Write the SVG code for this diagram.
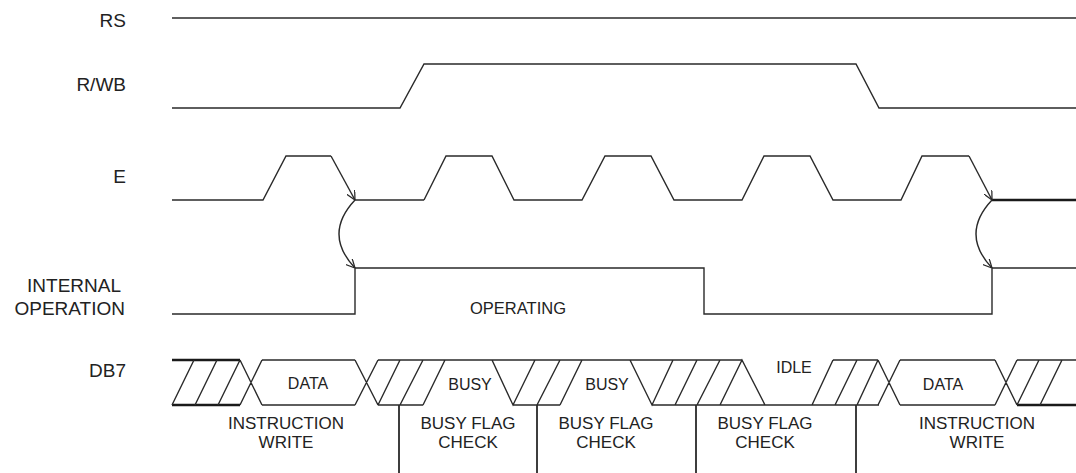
<svg xmlns="http://www.w3.org/2000/svg" width="1076" height="473" viewBox="0 0 1076 473">
<style>
.w{fill:none;stroke:#2a2a2a;stroke-width:1.4;stroke-linejoin:miter}
.t{fill:none;stroke:#1a1a1a;stroke-width:2.4}
.lbl{font-family:"Liberation Sans",Arial,sans-serif;font-size:19px;fill:#222;text-anchor:end}
.in{font-family:"Liberation Sans",Arial,sans-serif;font-size:16px;fill:#222;text-anchor:middle}
.bl{font-family:"Liberation Sans",Arial,sans-serif;font-size:17px;fill:#222;text-anchor:middle}
</style>
<defs>
<marker id="ah" viewBox="0 0 10 10" refX="10" refY="5" markerWidth="9" markerHeight="9" markerUnits="userSpaceOnUse" orient="auto">
<path d="M0,0 L10,5 L0,10" fill="none" stroke="#2a2a2a" stroke-width="1.4"/>
</marker>
</defs>
<rect width="1076" height="473" fill="#fff"/>

<g id="labels">
<text class="lbl" x="126" y="27">RS</text>
<text class="lbl" x="126" y="91">R/WB</text>
<text class="lbl" x="126" y="183">E</text>
<text class="lbl" x="121" y="292">INTERNAL</text>
<text class="lbl" x="125" y="315">OPERATION</text>
<text class="lbl" x="126" y="377">DB7</text>
</g>

<g id="rs">
<line class="w" x1="172" y1="18" x2="1076" y2="18"/>
</g>

<g id="rwb">
<polyline class="w" points="172,108 400,108 424,64 856,64 879,108 1076,108"/>
</g>

<g id="e">
<polyline class="w" points="172,200 263,200 286,156 331,156"/>
<polyline class="w" points="424,200 446,156 492,156 514,200 582,200 605,156 651,156 674,200 742,200 764,156 810,156 833,200 901,200 922,156 969,156"/>
<line class="w" x1="355" y1="200" x2="424" y2="200"/>
<line class="t" x1="992" y1="200" x2="1076" y2="200"/>
</g>

<g id="internal-operation">
<polyline class="w" points="172,314 355,314 355,268 704,268 704,314 992,314 992,268 1076,268"/>
<text class="in" x="518" y="314" style="font-size:16.5px">OPERATING</text>
</g>

<g id="connectors">
<line class="w" x1="331" y1="156" x2="355" y2="200" marker-end="url(#ah)"/>
<line class="w" x1="969" y1="156" x2="992" y2="200" marker-end="url(#ah)"/>
<path class="w" d="M355,200 Q323,234 355,268" marker-end="url(#ah)"/>
<path class="w" d="M992,200 Q960,234 992,268" marker-end="url(#ah)"/>
</g>

<g id="db7">
<line class="t" x1="172" y1="360" x2="240" y2="360"/>
<line class="t" x1="172" y1="405" x2="240" y2="405"/>
<line class="t" x1="1017" y1="405" x2="1076" y2="405"/>
<path class="w" d="M172,405 L194,360 M195,405 L217,360 M218,405 L240,360
M240,360 L262,405 M240,405 L262,360
M262,360 L355,360 M262,405 L355,405
M355,360 L378,405 M355,405 L378,360
M378,360 L742,360
M378,405 L423,405
M378,405 L400,360 M400,405 L423,360 M423,405 L445,360
M492,360 L513,405 L535,360 M513,405 L560,405 M537,405 L560,360 M560,405 L582,360
M630,360 L652,405 L673,360 M652,405 L879,405 M675,405 L697,360 M697,405 L720,360
M720,405 L742,360 L765,405
M812,405 L833,360 M835,405 L857,360 M857,405 L878,360
M833,360 L878,360
M878,360 L900,405 M878,405 L900,360
M900,360 L995,360 M900,405 L995,405
M995,360 L1017,405 M995,405 L1017,360
M1017,360 L1076,360
M1017,405 L1039,360 M1040,405 L1062,360"/>
<text class="in" x="308" y="389">DATA</text>
<text class="in" x="470" y="390">BUSY</text>
<text class="in" x="607" y="390">BUSY</text>
<text class="in" x="794" y="373">IDLE</text>
<text class="in" x="943" y="390">DATA</text>
</g>

<g id="phases">
<path class="w" d="M399,405 L399,473 M537,405 L537,473 M696,405 L696,473 M856,405 L856,473" style="stroke-width:1.8"/>
<text class="bl" x="286" y="429">INSTRUCTION</text>
<text class="bl" x="286" y="448">WRITE</text>
<text class="bl" x="468" y="429">BUSY FLAG</text>
<text class="bl" x="468" y="448">CHECK</text>
<text class="bl" x="606" y="429">BUSY FLAG</text>
<text class="bl" x="606" y="448">CHECK</text>
<text class="bl" x="765" y="429">BUSY FLAG</text>
<text class="bl" x="765" y="448">CHECK</text>
<text class="bl" x="977" y="429">INSTRUCTION</text>
<text class="bl" x="977" y="448">WRITE</text>
</g>
</svg>
